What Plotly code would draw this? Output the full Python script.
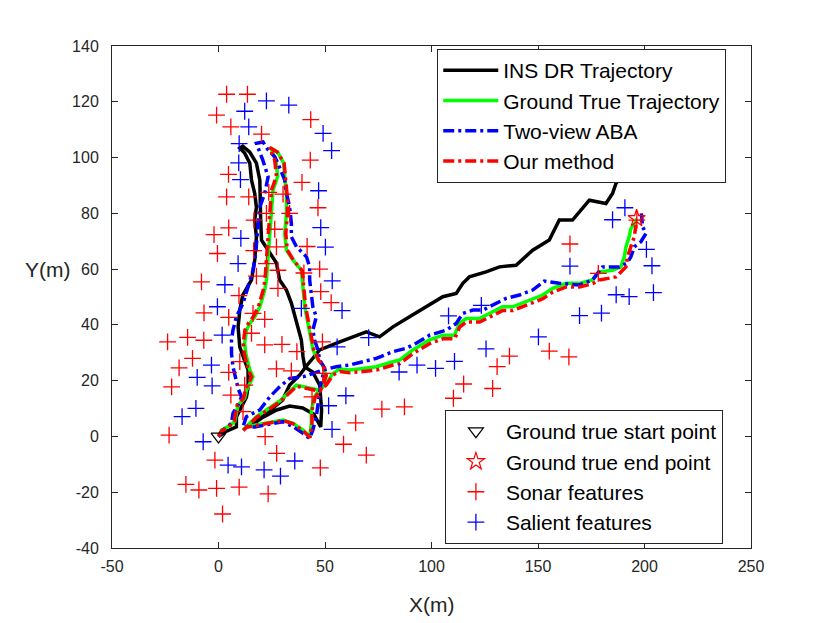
import plotly.graph_objects as go

# ---------------- data (metres) ----------------
ins_dr_pts = [(0,0),(3.0,1.6),(8.4,3.4),(8.4,7.0),(13.1,14.1),(13.9,17.7),(13.9,23.8),(11.5,28.5),(10.0,32.0),
    (9.2,39.2),(10.0,45.3),(11.4,50.7),(15.5,56.1),(17.0,63.2),(17.8,71.5),(17.0,77.6),(17.8,82.2),(17.0,87.2),
    (15.5,91.9),(14.7,98.0),(12.3,101.6),(10.0,103.4),(11.4,104.1),(14.7,101.9),(17.8,98.0),(19.4,91.9),(19.4,85.8),
    (19.8,77.6),(20.2,70.4),(24.1,65.7),(27.2,62.2),(28.7,56.1),(31.9,52.5),(34.2,47.8),(36.6,40.6),(38.9,34.6),
    (39.7,28.5),(40.5,24.9),(44.2,23.1),(47.5,18.4),(48.4,9.5),(48.0,3.4),(44.7,8.0),(39.5,10.2),(33.4,10.9),
    (27.3,9.5),(20.3,6.6),(14.7,3.7),(18.4,5.9),(22.6,8.4),(30.1,13.0),(33.4,18.4),(38.1,22.0),(40.9,24.9),
    (47.5,31.0),(56.9,33.9),(69.4,37.5),(75.6,35.7),(81.9,39.3),(89.7,42.9),(97.5,46.5),(105.3,50.1),(111.6,51.3),
    (114.7,54.9),(117.8,57.2),(125.6,59.0),(131.9,60.8),(139.7,61.4),(147.5,66.8),(155.3,70.4),(160.0,77.6),
    (166.2,77.6),(174.1,84.7),(181.9,83.5),(185.0,87.1),(186.6,90.7),(189.7,94.3),(193.8,100.9)]

ground_true_pts = [(0,0),(1.4,2.3),(4.5,3.5),(7.6,5.3),(8.4,8.3),(9.2,11.3),(12.3,13.7),(13.1,16.6),(14.7,19.0),
    (16.2,21.4),(14.7,23.8),(13.9,26.8),(12.8,29.8),(12.3,33.4),(13.1,38.1),(14.7,40.5),(17.0,42.9),(19.4,46.5),
    (21.7,52.5),(22.5,56.1),(23.3,64.4),(23.6,71.6),(24.4,76.4),(24.8,82.3),(25.6,88.3),(27.8,93.3),(26.9,99.1),
    (24.5,103.4),(27.8,101.9),(30.6,98.0),(31.1,91.9),(31.9,85.9),(31.9,80.0),(31.1,72.8),(31.9,66.8),(35.0,63.2),
    (38.9,59.6),(39.7,53.7),(40.5,46.5),(42.0,40.5),(43.6,34.6),(44.4,31.0),(46.7,27.4),(49.0,25.6),(50.3,22.0),
    (48.3,17.8),(45.1,14.2),(43.6,9.5),(43.6,4.7),(42.8,-0.1),(39.7,2.3),(35.0,4.7),(30.3,5.9),(25.6,5.3),
    (22.5,4.7),(17.8,4.1),(13.1,3.5),(11.5,2.3),(17.8,7.1),(22.5,9.5),(28.7,12.7),(36.6,18.4),(42.8,17.2),
    (47.5,16.6),(50.6,19.0),(53.7,22.6),(56.9,24.2),(61.6,23.8),(67.8,24.4),(74.1,25.0),(81.9,26.8),(85.0,27.4),
    (91.2,31.0),(99.1,34.6),(105.3,36.3),(110.8,36.3),(113.1,40.5),(116.3,42.3),(122.5,42.3),(128.7,44.7),
    (133.4,46.5),(138.1,46.5),(144.4,48.3),(152.2,50.7),(156.9,53.1),(163.2,54.9),(169.4,54.9),(175.6,56.1),
    (178.8,59.0),(185.0,59.6),(188.9,60.8),(190.5,64.4),(191.3,68.0),(192.8,71.6),(193.6,74.6),(196.0,77.0),
    (196.3,78.2)]

two_view_aba_pts = [(0,0),(2.2,2.3),(6.1,4.7),(6.8,8.3),(9.2,11.3),(10.8,14.2),(9.2,17.2),(6.8,25.0),(6.1,29.8),
    (6.1,34.6),(6.8,38.1),(8.4,42.9),(11.5,47.7),(13.1,51.3),(13.9,53.7),(16.2,59.6),(17.5,65.6),(18.1,71.6),
    (18.6,77.6),(19.4,82.3),(21.7,87.1),(23.3,93.1),(20.8,99.1),(17.8,105.1),(20.9,105.6),(23.3,102.7),(26.4,100.3),
    (27.9,97.9),(31.1,91.9),(31.9,87.1),(33.4,82.3),(34.2,76.4),(34.2,71.6),(36.6,68.0),(41.3,64.4),(42.8,60.8),
    (42.8,56.1),(43.6,50.1),(44.3,46.5),(45.9,42.9),(44.3,38.1),(45.1,34.6),(46.7,31.0),(47.5,27.4),(49.8,24.5),
    (48.0,18.4),(46.7,11.9),(45.9,7.1),(44.3,2.3),(42.8,-0.7),(39.7,1.1),(35.0,3.5),(30.3,5.3),(24.1,4.4),
    (17.0,3.4),(11.5,3.5),(13.1,7.1),(19.4,9.5),(24.1,14.2),(28.7,17.8),(33.4,20.8),(39.7,21.4),(44.3,22.6),
    (49.0,23.8),(55.3,25.0),(61.6,25.6),(67.8,26.8),(74.1,28.0),(81.9,30.4),(88.1,31.6),(92.8,33.4),(99.1,36.3),
    (106.9,38.1),(111.6,40.5),(114.7,44.1),(119.4,45.3),(124.1,45.3),(128.7,47.1),(135.0,49.5),(141.3,50.7),
    (147.5,52.5),(153.0,55.7),(160.0,54.9),(169.4,54.3),(175.6,56.1),(180.3,60.8),(188.2,60.8),(191.9,62.2),
    (193.6,64.4),(195.2,68.0),(198.3,69.8),(200.7,72.8),(199.1,75.2),(198.5,80.0)]

our_method_pts = [(0,0),(1.6,2.1),(4.7,3.3),(7.4,5.5),(8.0,8.3),(8.8,11.3),(11.8,13.7),(12.5,16.6),(14.1,19.0),
    (15.5,21.4),(14.0,23.8),(13.2,26.8),(12.1,29.8),(11.6,33.4),(12.4,38.1),(14.0,40.5),(16.3,42.9),(18.7,46.5),
    (21.0,52.5),(21.8,56.1),(22.6,64.4),(22.9,71.6),(23.7,76.4),(24.1,82.3),(24.9,88.3),(27.2,93.3),(26.4,99.1),
    (24.0,103.6),(27.6,102.0),(30.8,98.0),(31.5,91.9),(32.3,85.9),(32.4,80.0),(31.6,72.8),(32.3,66.8),(35.4,63.0),
    (39.3,59.4),(40.1,53.7),(40.9,46.5),(42.4,40.5),(44.0,34.6),(44.8,31.0),(47.1,27.2),(49.4,25.3),(50.6,21.8),
    (48.6,17.6),(45.4,14.0),(43.9,9.5),(43.9,4.7),(43.0,-0.4),(39.8,2.0),(35.1,4.5),(30.4,5.7),(25.7,5.1),
    (22.6,4.5),(17.9,3.9),(13.2,3.3),(11.6,2.1),(17.9,6.8),(22.6,9.2),(28.8,12.4),(36.7,18.0),(42.9,16.8),
    (47.6,16.2),(50.7,18.6),(53.8,22.1),(57.0,23.3),(61.7,22.8),(67.9,23.3),(74.2,23.8),(82.0,25.6),(85.1,26.1),
    (91.3,29.7),(99.2,33.3),(105.4,35.0),(110.9,35.0),(113.2,39.2),(116.4,41.0),(122.6,41.0),(128.8,43.4),
    (133.5,45.2),(138.2,45.2),(144.5,47.0),(152.3,49.4),(157.0,51.8),(163.3,53.6),(169.5,53.6),(175.7,54.8),
    (178.8,56.1),(186.6,57.2),(191.3,60.8),(192.0,64.4),(193.6,68.0),(195.2,71.6),(196.0,75.8)]

start_point = (0.0, 0.0)
end_point = (196.3, 78.2)

sonar_features = [(3.8,122.7),(13.6,122.7),(-0.9,115.2),(5.8,111.0),(20.2,108.4),(43.3,113.6),(43.1,99.1),
    (39.2,91.1),(46.7,82.0),(41.6,68.1),(47.5,60.0),(48.0,51.9),(52.9,48.0),(4.7,94.0),(3.8,85.9),(14.2,85.9),
    (23.6,87.5),(22.5,80.0),(4.8,74.8),(-2.1,72.4),(26.4,74.3),(-0.5,65.6),(16.5,66.6),(27.2,68.0),(-8.0,55.4),
    (17.8,57.5),(22.5,62.0),(9.6,50.5),(27.9,53.1),(30.3,86.9),(33.4,80.0),(27.9,59.6),(40.1,58.6),(48.8,33.9),
    (36.8,30.4),(29.8,33.0),(27.2,24.2),(34.2,23.5),(49.0,22.6),(43.9,14.2),(-6.8,44.3),(4.8,42.7),(16.2,44.1),
    (21.7,42.0),(-23.9,33.9),(-14.5,35.5),(-6.9,34.5),(15.5,37.0),(21.7,32.8),(-12.2,28.0),(-18.5,24.6),(4.8,23.0),
    (10.0,26.8),(-22.0,17.8),(5.8,14.8),(12.3,18.4),(11.5,8.9),(-23.2,0.5),(-1.7,-8.5),(-15.3,-17.2),(-9.2,-19.2),
    (-0.9,-18.6),(9.7,-18.2),(23.3,-20.6),(1.9,-27.8),(21.9,-0.1),(27.3,-6.1),(47.8,-11.3),(58.7,-2.8),(69.4,-6.7),
    (64.4,4.9),(76.7,9.8),(87.3,10.6),(110.3,13.7),(115.1,18.8),(128.7,17.2),(130.8,25.0),(136.6,28.8),(155.3,30.6),
    (164.5,28.5),(165.0,69.0),(178.3,58.5),(196.4,77.6),(16.7,77.6)]

salient_features = [(22.5,120.3),(33.0,118.8),(12.3,116.6),(14.2,111.0),(49.1,108.7),(53.1,102.5),(9.7,105.0),
    (9.5,98.1),(10.3,92.1),(47.0,88.1),(48.0,74.9),(50.2,67.9),(53.4,55.8),(10.5,71.0),(9.2,62.0),(3.0,54.4),
    (58.0,45.1),(38.9,45.9),(1.7,36.3),(-3.3,25.6),(-10.0,21.2),(-3.0,18.1),(-10.6,10.1),(-17.1,7.1),(-7.2,-1.9),
    (4.5,-10.3),(10.8,-10.9),(21.4,-12.0),(35.8,-8.8),(29.1,-14.2),(53.3,2.5),(51.7,11.0),(59.8,14.6),(55.7,32.1),
    (70.5,35.4),(84.8,23.1),(93.2,25.6),(101.9,24.4),(110.8,26.9),(108.0,43.2),(123.4,47.0),(125.6,31.4),
    (150.2,35.7),(169.5,43.3),(179.8,44.2),(165.0,61.1),(185.0,77.7),(190.8,82.0),(200.9,67.1),(203.5,61.2),
    (186.7,50.8),(192.8,50.1),(204.2,51.6),(-0.5,46.5)]

x_ticks = [-50, 0, 50, 100, 150, 200, 250]
y_ticks = [-40, -20, 0, 20, 40, 60, 80, 100, 120, 140]

FONT = "Liberation Sans, Arial, Helvetica, sans-serif"
AX = "#262626"
DASHDOT = "11px,4px,3px,4px"


def xs(pts):
    return [p[0] for p in pts]


def ys(pts):
    return [p[1] for p in pts]


fig = go.Figure()

fig.add_trace(go.Scatter(x=xs(ins_dr_pts), y=ys(ins_dr_pts), mode="lines", name="INS DR Trajectory",
                         line=dict(color="black", width=3.5), legend="legend"))
fig.add_trace(go.Scatter(x=xs(ground_true_pts), y=ys(ground_true_pts), mode="lines", name="Ground True Trajectory",
                         line=dict(color="#00ff00", width=3.5), legend="legend"))
fig.add_trace(go.Scatter(x=xs(two_view_aba_pts), y=ys(two_view_aba_pts), mode="lines", name="Two-view ABA",
                         line=dict(color="#0000ff", width=3.5, dash=DASHDOT), legend="legend"))
fig.add_trace(go.Scatter(x=xs(our_method_pts), y=ys(our_method_pts), mode="lines", name="Our method",
                         line=dict(color="#ff0000", width=3.5, dash=DASHDOT), legend="legend"))

fig.add_trace(go.Scatter(x=[start_point[0]], y=[start_point[1]], mode="markers", name="Ground true start point",
                         marker=dict(symbol="triangle-down-open", size=13, color="black", line=dict(width=1.2)),
                         legend="legend2"))
fig.add_trace(go.Scatter(x=[end_point[0]], y=[end_point[1]], mode="markers", name="Ground true end point",
                         marker=dict(symbol="star-open", size=13, color="#ff0000", line=dict(width=1.2)),
                         legend="legend2"))
fig.add_trace(go.Scatter(x=xs(sonar_features), y=ys(sonar_features), mode="markers", name="Sonar features",
                         marker=dict(symbol="cross-thin", size=12, color="#ff0000",
                                     line=dict(color="#ff0000", width=1.3)),
                         legend="legend2"))
fig.add_trace(go.Scatter(x=xs(salient_features), y=ys(salient_features), mode="markers", name="Salient features",
                         marker=dict(symbol="cross-thin", size=12, color="#0000ff",
                                     line=dict(color="#0000ff", width=1.3)),
                         legend="legend2"))

axis_common = dict(showline=True, linecolor=AX, linewidth=1, mirror="ticks", ticks="inside", ticklen=6,
                   tickcolor=AX, tickwidth=1, showgrid=False, zeroline=False,
                   tickfont=dict(family=FONT, size=16, color=AX))

fig.update_layout(
    width=822, height=615,
    margin=dict(l=104, r=79, t=38, b=75),
    paper_bgcolor="white", plot_bgcolor="white",
    font=dict(family=FONT, color="black"),
    xaxis=dict(range=[-50, 250], tickvals=x_ticks, ticktext=[str(v) for v in x_ticks],
               ticklabelstandoff=4, **axis_common),
    yaxis=dict(range=[-40, 140], tickvals=y_ticks, ticktext=[str(v) for v in y_ticks],
               ticklabelstandoff=9, **axis_common),
    legend=dict(x=0.509, y=0.8606, xanchor="left", yanchor="middle", bgcolor="white", bordercolor=AX,
                borderwidth=1, font=dict(family=FONT, size=21, color="black"), itemwidth=55,
                tracegroupgap=0),
    legend2=dict(x=0.521, y=0.1414, xanchor="left", yanchor="middle", bgcolor="white", bordercolor=AX,
                 borderwidth=1, font=dict(family=FONT, size=21, color="black"), itemwidth=50,
                 tracegroupgap=0),
    annotations=[
        dict(text="X(m)", xref="paper", yref="paper", x=0.5, y=-0.113, xanchor="center", yanchor="middle",
             showarrow=False, font=dict(family=FONT, size=21, color=AX)),
        dict(text="Y(m)", xref="paper", yref="paper", x=-0.1, y=0.554, xanchor="center", yanchor="middle",
             showarrow=False, font=dict(family=FONT, size=21, color=AX)),
    ],
)

fig.write_html("out.html")
